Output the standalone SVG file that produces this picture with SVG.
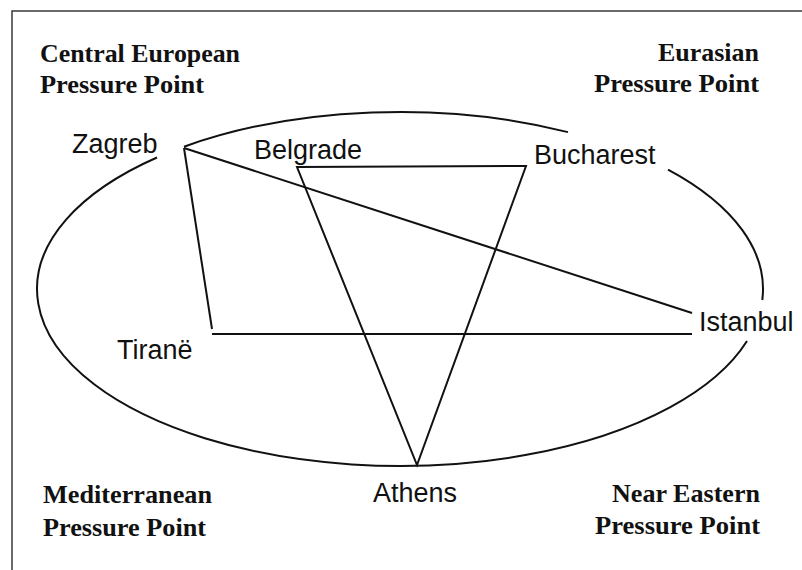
<svg xmlns="http://www.w3.org/2000/svg" width="802" height="570" viewBox="0 0 802 570">
<style>
.frame{fill:none;stroke:#3a3a3a;stroke-width:1.5}
.ell{fill:none;stroke:#111;stroke-width:2}
.ln{fill:none;stroke:#111;stroke-width:2}
.city{font-family:"Liberation Sans",Arial,sans-serif;font-size:27px;fill:#111}
.pp{font-family:"Liberation Serif","Times New Roman",serif;font-size:25.5px;font-weight:bold;fill:#111}
</style>
<rect width="802" height="570" fill="#fff"/>
<rect class="frame" x="12" y="11" width="800" height="570"/>
<g id="ellipse">
<path class="ell" d="M184,146.7 A363,177 0 0 1 568,132.1"/>
<path class="ell" d="M668,169.6 A363,177 0 0 1 762.3,300"/>
<path class="ell" d="M747,341 A363,177 0 1 1 157,157.5"/>
</g>
<g id="connectors">
<line class="ln" x1="184" y1="148" x2="212" y2="329"/>
<line class="ln" x1="212" y1="334" x2="692" y2="334"/>
<line class="ln" x1="184" y1="148" x2="692" y2="313"/>
<polygon class="ln" points="297,167 526,166 417,465"/>
</g>
<g id="zagreb"><text class="city" x="72" y="153">Zagreb</text></g>
<g id="belgrade"><text class="city" x="254" y="159">Belgrade</text></g>
<g id="bucharest"><text class="city" x="534" y="164">Bucharest</text></g>
<g id="istanbul"><text class="city" x="699" y="331">Istanbul</text></g>
<g id="tirane"><text class="city" x="117" y="359">Tiranë</text></g>
<g id="athens"><text class="city" x="373" y="502">Athens</text></g>
<g id="central-european">
<text class="pp" x="40" y="62" textLength="200" lengthAdjust="spacingAndGlyphs">Central European</text>
<text class="pp" x="40" y="93" textLength="164" lengthAdjust="spacingAndGlyphs">Pressure Point</text>
</g>
<g id="eurasian">
<text class="pp" x="658" y="61" textLength="101" lengthAdjust="spacingAndGlyphs">Eurasian</text>
<text class="pp" x="594" y="92" textLength="165" lengthAdjust="spacingAndGlyphs">Pressure Point</text>
</g>
<g id="mediterranean">
<text class="pp" x="43" y="503" textLength="169" lengthAdjust="spacingAndGlyphs">Mediterranean</text>
<text class="pp" x="43" y="536" textLength="163" lengthAdjust="spacingAndGlyphs">Pressure Point</text>
</g>
<g id="near-eastern">
<text class="pp" x="612" y="502" textLength="148" lengthAdjust="spacingAndGlyphs">Near Eastern</text>
<text class="pp" x="595" y="534" textLength="165" lengthAdjust="spacingAndGlyphs">Pressure Point</text>
</g>
</svg>
